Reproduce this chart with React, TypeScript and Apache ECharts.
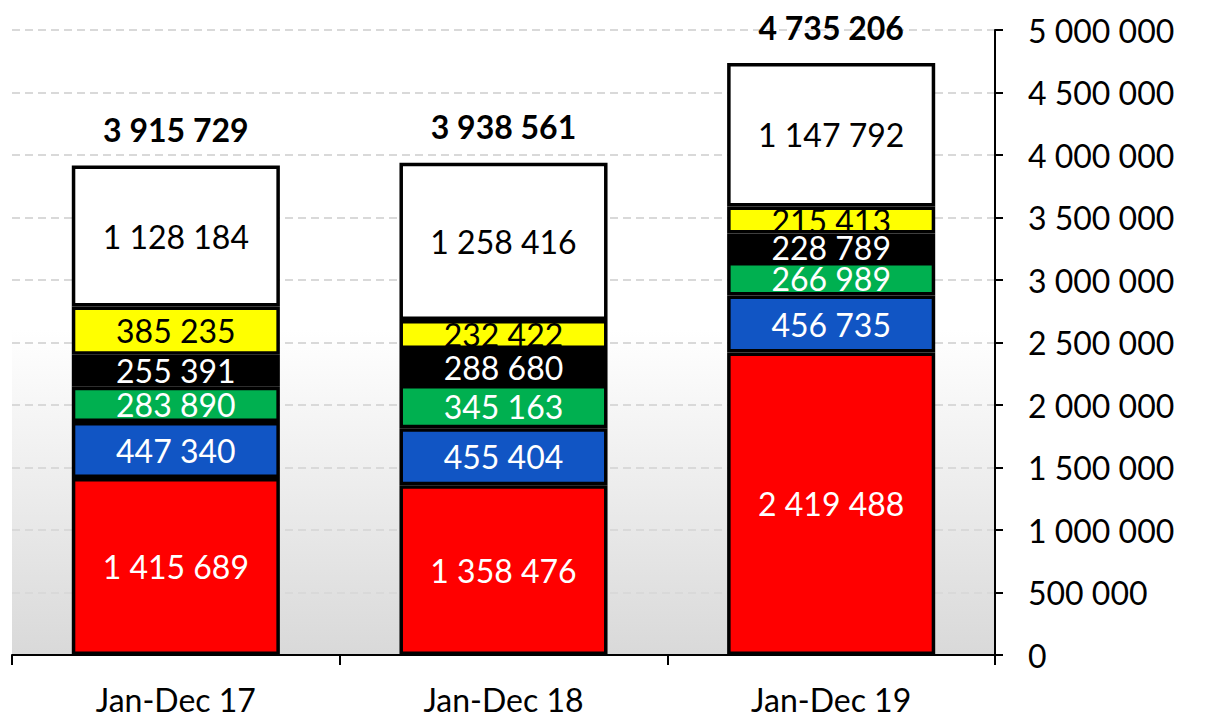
import React, { useEffect, useRef } from "react";
import * as echarts from "echarts";

const categories = ["Jan-Dec 17", "Jan-Dec 18", "Jan-Dec 19"];
const redValues = [1415689, 1358476, 2419488];
const blueValues = [447340, 455404, 456735];
const greenValues = [283890, 345163, 266989];
const blackValues = [255391, 288680, 228789];
const yellowValues = [385235, 232422, 215413];
const whiteValues = [1128184, 1258416, 1147792];

const fmt = (v: number) => String(Math.round(v)).replace(/\B(?=(\d{3})+(?!\d))/g, " ");

const FONT = "Lato";
const FS = 32;

export default function App() {
  const ref = useRef<HTMLDivElement>(null);
  useEffect(() => {
    const chart = echarts.init(ref.current!, null, { renderer: "svg" });
    const layers = [
      { name: "red", data: redValues, color: "#ff0000", text: "#ffffff" },
      { name: "blue", data: blueValues, color: "#1155c4", text: "#ffffff" },
      { name: "green", data: greenValues, color: "#00b050", text: "#ffffff" },
      { name: "black", data: blackValues, color: "#000000", text: "#ffffff" },
      { name: "yellow", data: yellowValues, color: "#ffff00", text: "#000000" },
      { name: "white", data: whiteValues, color: "#ffffff", text: "#000000" },
    ];
    const totals = categories.map((_, i) => layers.reduce((s, l) => s + l.data[i], 0));
    const series: any[] = layers.map((l) => ({
      name: l.name,
      type: "bar",
      stack: "total",
      barWidth: "63.5%",
      data: l.data,
      itemStyle: { color: l.color, borderColor: "#000000", borderWidth: 3.5 },
      label: {
        show: true,
        position: "inside",
        formatter: (p: any) => fmt(p.value),
        color: l.text,
        fontFamily: FONT,
        fontSize: FS,
      },
    }));
    series.push({
      name: "total",
      type: "scatter",
      data: totals,
      symbolSize: 0,
      itemStyle: { color: "#000000" },
      silent: true,
      z: 10,
      label: {
        show: true,
        position: "top",
        distance: 20,
        formatter: (p: any) => fmt(p.value),
        color: "#000000",
        opacity: 1,
        fontFamily: FONT,
        fontSize: FS,
        fontWeight: "bold",
      },
    });
    chart.setOption({
      animation: false,
      grid: {
        left: 12,
        right: 213,
        top: 30,
        bottom: 66,
        show: true,
        borderWidth: 0,
        backgroundColor: {
          type: "linear",
          x: 0,
          y: 0,
          x2: 0,
          y2: 1,
          colorStops: [
            { offset: 0, color: "#ffffff" },
            { offset: 0.48, color: "#ffffff" },
            { offset: 1, color: "#d9d9d9" },
          ],
        },
      },
      xAxis: {
        type: "category",
        data: categories,
        axisLine: { show: true, lineStyle: { color: "#000000", width: 2 } },
        axisTick: { show: true, length: 10, lineStyle: { color: "#000000", width: 2 } },
        axisLabel: { color: "#000000", fontFamily: FONT, fontSize: FS, margin: 28 },
      },
      yAxis: {
        type: "value",
        position: "right",
        min: 0,
        max: 5000000,
        interval: 500000,
        axisLine: { show: true, lineStyle: { color: "#000000", width: 2 } },
        axisTick: { show: true, length: 8, lineStyle: { color: "#000000", width: 2 } },
        axisLabel: {
          color: "#000000",
          fontFamily: FONT,
          fontSize: FS,
          margin: 33,
          formatter: (v: number) => fmt(v),
        },
        splitLine: { show: true, lineStyle: { color: "#d9d9d9", width: 2, type: [8, 5] } },
      },
      series,
    });
    return () => chart.dispose();
  }, []);
  return (
    <div
      ref={ref}
      style={{ position: "fixed", left: 0, top: 0, width: 1208, height: 721, background: "#ffffff" }}
    />
  );
}
